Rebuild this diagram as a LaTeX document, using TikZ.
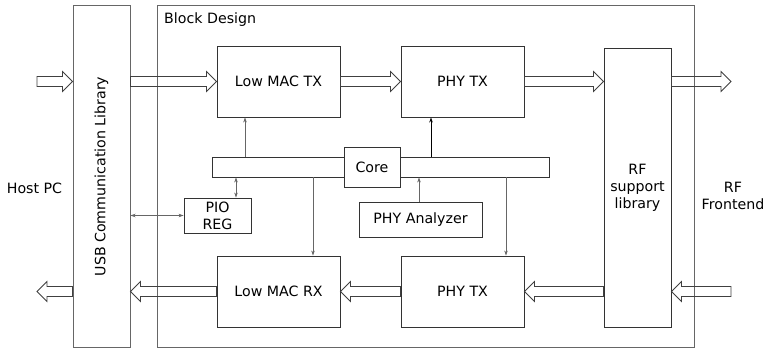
\documentclass[tikz,border=0pt]{standalone}
\usepackage{fontspec}
\setmainfont{DejaVu Sans}
\usetikzlibrary{arrows.meta,calc}
\tikzset{
  x=1pt,y=-1pt,
  every node/.style={font=\fontsize{14.2pt}{17pt}\selectfont},
  outerbox/.style={draw=black!60,line width=1pt,inner sep=0pt},
  blk/.style={draw=black!80,line width=0.9pt,inner sep=0pt,fill=white,align=center},
  conn/.style={draw=black!60,line width=0.6pt,-{Stealth[length=5pt,width=3.5pt]}},
  dconn/.style={draw=black!60,line width=0.6pt,{Stealth[length=5pt,width=3.5pt]}-{Stealth[length=5pt,width=3.5pt]}},
  bconn/.style={draw=black,line width=0.9pt,-{Stealth[length=5pt,width=3.5pt]}},
  fat/.style={draw=black!75,line width=0.8pt,line join=miter},
  lbl/.style={inner sep=0pt,align=center}
}
\newcommand\fatR[2]{\draw[fat] let \p1=(#1),\p2=(#2) in (\x1,\y1+5pt) -- (\x2-10pt,\y1+5pt) -- (\x2-10pt,\y1+10pt) -- (\x2,\y1) -- (\x2-10pt,\y1-10pt) -- (\x2-10pt,\y1-5pt) -- (\x1,\y1-5pt) -- cycle;}
\newcommand\fatL[2]{\draw[fat] let \p1=(#1),\p2=(#2) in (\x1,\y1+5pt) -- (\x2+10pt,\y1+5pt) -- (\x2+10pt,\y1+10pt) -- (\x2,\y1) -- (\x2+10pt,\y1-10pt) -- (\x2+10pt,\y1-5pt) -- (\x1,\y1-5pt) -- cycle;}
\begin{document}
\begin{tikzpicture}
\useasboundingbox (0,0) rectangle (765,350);
% outer boxes
\node[outerbox,minimum width=537pt,minimum height=341pt] (bd) at (425.5,176.5) {};
\node[lbl,anchor=base west] (bdl) at (164,24) {Block Design};
\node[outerbox,minimum width=57pt,minimum height=341pt] (usb) at (101.5,176.5) {};
\node[lbl,rotate=90] (usbl) at (101.5,176.5) {USB Communication Library};
% blocks
\node[blk,minimum width=123pt,minimum height=71pt] (lmtx) at (278.5,81.5) {Low MAC TX};
\node[blk,minimum width=123pt,minimum height=71pt] (phytx) at (462.5,81.5) {PHY TX};
\node[blk,minimum width=67pt,minimum height=279pt] (rf) at (637.5,187.5) {RF\\support\\library};
\node[blk,minimum width=337pt,minimum height=20pt] (bar) at (380.5,167) {};
\node[blk,minimum width=56pt,minimum height=40pt] (core) at (372,167) {Core};
\node[blk,minimum width=67pt,minimum height=35pt] (pio) at (217.5,215.5) {PIO\\REG};
\node[blk,minimum width=123pt,minimum height=35pt] (ana) at (420.5,219.5) {PHY Analyzer};
\node[blk,minimum width=123pt,minimum height=71pt] (lmrx) at (278.5,291.5) {Low MAC RX};
\node[blk,minimum width=123pt,minimum height=71pt] (phyrx) at (462.5,291.5) {PHY TX};
% side labels
\node[lbl,anchor=base] (host) at (34.5,193) {Host PC};
\node[lbl] (rffe) at (733,196) {RF\\Frontend};
% thin connectors
\draw[conn] (bar.north -| 245,0) -- (lmtx.south -| 245,0);
\draw[bconn] (bar.north -| 431,0) -- (phytx.south -| 431,0);
\draw[conn] (bar.south -| 313,0) -- (lmrx.north -| 313,0);
\draw[conn] (bar.south -| 506,0) -- (phyrx.north -| 506,0);
\draw[conn] (ana.north -| 419,0) -- (bar.south -| 419,0);
\draw[dconn] ([xshift=18.5pt]pio.north) -- ([xshift=18.5pt]pio.north |- bar.south);
\draw[dconn] (usb.east |- pio.west) -- (pio.west);
% fat arrows
\coordinate (in1) at (37,81.5);
\coordinate (out1) at (731,81.5);
\coordinate (in2) at (731,291.5);
\coordinate (out2) at (37,291.5);
\fatR{in1}{usb.west |- lmtx.west}
\fatR{usb.east |- lmtx.west}{lmtx.west}
\fatR{lmtx.east}{phytx.west}
\fatR{phytx.east}{rf.west |- phytx.east}
\fatR{rf.east |- phytx.east}{out1}
\fatL{in2}{rf.east |- phyrx.east}
\fatL{rf.west |- phyrx.east}{phyrx.east}
\fatL{phyrx.west}{lmrx.east}
\fatL{lmrx.west}{usb.east |- lmrx.west}
\fatL{usb.west |- lmrx.west}{out2}
\end{tikzpicture}
\end{document}
